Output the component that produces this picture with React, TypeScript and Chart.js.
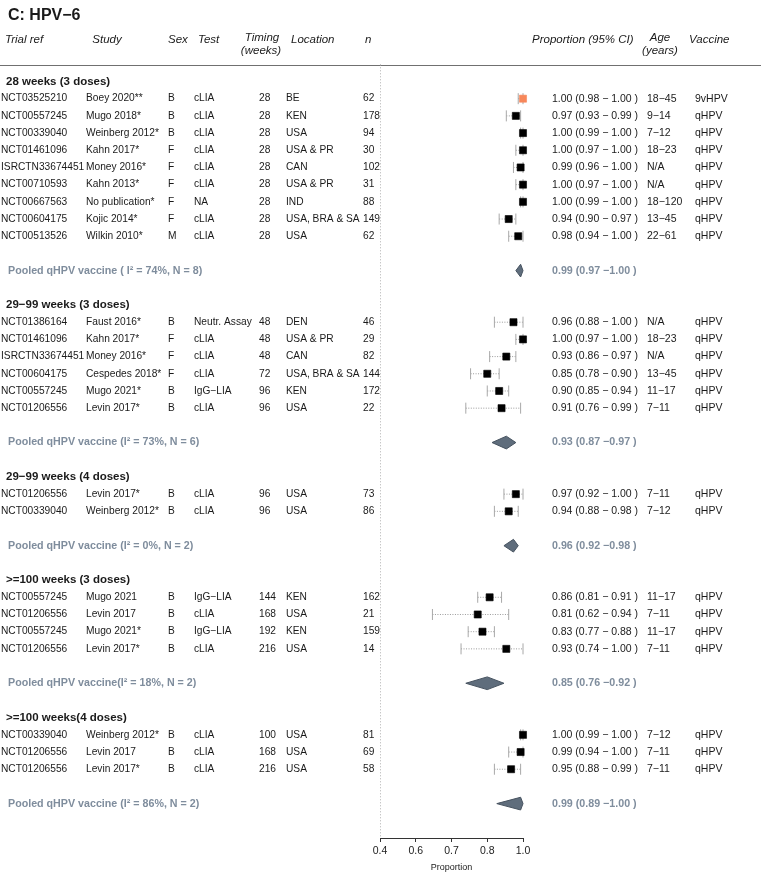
import React, { useEffect, useRef } from "react";
import { Chart, registerables } from "chart.js";

Chart.register(...registerables);

// ---------- DATA ----------
const groupTitles = [
  "28 weeks (3 doses)",
  "29−99 weeks (3 doses)",
  "29−99 weeks (4 doses)",
  ">=100 weeks (3 doses)",
  ">=100 weeks(4 doses)",
];
const groupSizes = [9, 6, 2, 4, 3];

const trialRefs = [
  "NCT03525210", "NCT00557245", "NCT00339040", "NCT01461096", "ISRCTN33674451", "NCT00710593", "NCT00667563", "NCT00604175", "NCT00513526",
  "NCT01386164", "NCT01461096", "ISRCTN33674451", "NCT00604175", "NCT00557245", "NCT01206556",
  "NCT01206556", "NCT00339040",
  "NCT00557245", "NCT01206556", "NCT00557245", "NCT01206556",
  "NCT00339040", "NCT01206556", "NCT01206556",
];
const studies = [
  "Boey 2020**", "Mugo 2018*", "Weinberg 2012*", "Kahn 2017*", "Money 2016*", "Kahn 2013*", "No publication*", "Kojic 2014*", "Wilkin 2010*",
  "Faust 2016*", "Kahn 2017*", "Money 2016*", "Cespedes 2018*", "Mugo 2021*", "Levin 2017*",
  "Levin 2017*", "Weinberg 2012*",
  "Mugo 2021", "Levin 2017", "Mugo 2021*", "Levin 2017*",
  "Weinberg 2012*", "Levin 2017", "Levin 2017*",
];
const sexes = [
  "B", "B", "B", "F", "F", "F", "F", "F", "M",
  "B", "F", "F", "F", "B", "B",
  "B", "B",
  "B", "B", "B", "B",
  "B", "B", "B",
];
const tests = [
  "cLIA", "cLIA", "cLIA", "cLIA", "cLIA", "cLIA", "NA", "cLIA", "cLIA",
  "Neutr. Assay", "cLIA", "cLIA", "cLIA", "IgG−LIA", "cLIA",
  "cLIA", "cLIA",
  "IgG−LIA", "cLIA", "IgG−LIA", "cLIA",
  "cLIA", "cLIA", "cLIA",
];
const timings = [
  "28", "28", "28", "28", "28", "28", "28", "28", "28",
  "48", "48", "48", "72", "96", "96",
  "96", "96",
  "144", "168", "192", "216",
  "100", "168", "216",
];
const locations = [
  "BE", "KEN", "USA", "USA & PR", "CAN", "USA & PR", "IND", "USA, BRA & SA", "USA",
  "DEN", "USA & PR", "CAN", "USA, BRA & SA", "KEN", "USA",
  "USA", "USA",
  "KEN", "USA", "KEN", "USA",
  "USA", "USA", "USA",
];
const sampleSizes = [
  62, 178, 94, 30, 102, 31, 88, 149, 62,
  46, 29, 82, 144, 172, 22,
  73, 86,
  162, 21, 159, 14,
  81, 69, 58,
];
const estimates = [
  1.0, 0.97, 1.0, 1.0, 0.99, 1.0, 1.0, 0.94, 0.98,
  0.96, 1.0, 0.93, 0.85, 0.9, 0.91,
  0.97, 0.94,
  0.86, 0.81, 0.83, 0.93,
  1.0, 0.99, 0.95,
];
const lowers = [
  0.98, 0.93, 0.99, 0.97, 0.96, 0.97, 0.99, 0.9, 0.94,
  0.88, 0.97, 0.86, 0.78, 0.85, 0.76,
  0.92, 0.88,
  0.81, 0.62, 0.77, 0.74,
  0.99, 0.94, 0.88,
];
const uppers = [
  1.0, 0.99, 1.0, 1.0, 1.0, 1.0, 1.0, 0.97, 1.0,
  1.0, 1.0, 0.97, 0.9, 0.94, 0.99,
  1.0, 0.98,
  0.91, 0.94, 0.88, 1.0,
  1.0, 1.0, 0.99,
];
const ages = [
  "18−45", "9−14", "7−12", "18−23", "N/A", "N/A", "18−120", "13−45", "22−61",
  "N/A", "18−23", "N/A", "13−45", "11−17", "7−11",
  "7−11", "7−12",
  "11−17", "7−11", "11−17", "7−11",
  "7−12", "7−11", "7−11",
];
const vaccines = [
  "9vHPV", "qHPV", "qHPV", "qHPV", "qHPV", "qHPV", "qHPV", "qHPV", "qHPV",
  "qHPV", "qHPV", "qHPV", "qHPV", "qHPV", "qHPV",
  "qHPV", "qHPV",
  "qHPV", "qHPV", "qHPV", "qHPV",
  "qHPV", "qHPV", "qHPV",
];

const pooledLabels = [
  "Pooled qHPV vaccine ( I² = 74%, N = 8)",
  "Pooled qHPV vaccine (I² = 73%, N = 6)",
  "Pooled qHPV vaccine (I² = 0%, N = 2)",
  "Pooled qHPV vaccine(I² = 18%, N = 2)",
  "Pooled qHPV vaccine (I² = 86%, N = 2)",
];
const pooledEst = [0.99, 0.93, 0.96, 0.85, 0.99];
const pooledLo = [0.97, 0.87, 0.92, 0.76, 0.89];
const pooledHi = [1.0, 0.97, 0.98, 0.92, 1.0];

const xTickValues = [0.4, 0.55, 0.7, 0.85, 1.0];
const xTickLabels = ["0.4", "0.6", "0.7", "0.8", "1.0"];

// ---------- STYLE ----------
const FONT = '"Liberation Sans", Arial, Helvetica, sans-serif';
const TEXT = "#1a1a1a";
const POOLED_TEXT = "#7f8d9d";
const DIAMOND_FILL = "#5f6d7c";
const DIAMOND_BORDER = "#46525f";
const BOX = "#000000";
const BOX_HIGHLIGHT = "#f7875a";

// ---------- ROW LAYOUT ----------
const headerRows: number[] = [];
const studyRows: number[] = [];
const pooledRows: number[] = [];
(() => {
  let r = 0;
  groupSizes.forEach((n) => {
    headerRows.push(r);
    r += 1;
    for (let i = 0; i < n; i++) {
      studyRows.push(r);
      r += 1;
    }
    pooledRows.push(r + 1);
    r += 3;
  });
})();

const f2 = (v: number) => v.toFixed(2);

const tablePlugin = {
  id: "forestTable",
  beforeDatasetsDraw(chart: any) {
    const { ctx, chartArea, scales } = chart;
    const x = scales.x;
    ctx.save();
    ctx.strokeStyle = "#b0b0b0";
    ctx.lineWidth = 1;
    ctx.setLineDash([1, 2]);
    const px = Math.round(x.getPixelForValue(x.min)) + 0.5;
    ctx.beginPath();
    ctx.moveTo(px, chartArea.top);
    ctx.lineTo(px, chartArea.bottom);
    ctx.stroke();
    ctx.setLineDash([]);
    ctx.strokeStyle = "#707070";
    const hy = Math.round(chartArea.top + 1) + 0.5;
    ctx.beginPath();
    ctx.moveTo(0, hy);
    ctx.lineTo(chart.width, hy);
    ctx.stroke();
    ctx.restore();
  },
  afterDraw(chart: any) {
    const { ctx, scales } = chart;
    const y = scales.y;
    const Y = (r: number) => y.getPixelForValue(r);
    ctx.save();
    ctx.textBaseline = "middle";

    const txt = (s: string, px: number, py: number, align: CanvasTextAlign = "left") => {
      ctx.textAlign = align;
      ctx.fillText(s, px, py);
    };

    ctx.fillStyle = TEXT;
    ctx.font = `bold 16px ${FONT}`;
    txt("C: HPV−6", 8, Y(-3.85));

    ctx.font = `italic 11.5px ${FONT}`;
    const hRow = Y(-2.42);
    txt("Trial ref", 5, hRow);
    txt("Study", 107, hRow, "center");
    txt("Sex", 168, hRow);
    txt("Test", 198, hRow);
    txt("Timing", 262, Y(-2.55), "center");
    txt("(weeks)", 261, Y(-1.78), "center");
    txt("Location", 291, hRow);
    txt("n", 365, hRow);
    txt("Proportion (95% CI)", 532, hRow);
    txt("Age", 660, Y(-2.55), "center");
    txt("(years)", 660, Y(-1.78), "center");
    txt("Vaccine", 689, hRow);

    ctx.font = `bold 11.5px ${FONT}`;
    groupTitles.forEach((t, g) => txt(t, 6, Y(headerRows[g])));

    studyRows.forEach((r, i) => {
      const py = Y(r);
      ctx.font = `10.2px ${FONT}`;
      txt(trialRefs[i], 1, py);
      txt(studies[i], 86, py);
      txt(sexes[i], 168, py);
      txt(tests[i], 194, py);
      txt(timings[i], 259, py);
      txt(locations[i], 286, py);
      txt(String(sampleSizes[i]), 363, py);
      ctx.font = `10.5px ${FONT}`;
      txt(`${f2(estimates[i])} (${f2(lowers[i])} − ${f2(uppers[i])} )`, 552, py);
      txt(ages[i], 647, py);
      txt(vaccines[i], 695, py);
    });

    ctx.fillStyle = POOLED_TEXT;
    ctx.font = `bold 10.7px ${FONT}`;
    pooledRows.forEach((r, g) => {
      const py = Y(r);
      txt(pooledLabels[g], 8, py);
      txt(`${f2(pooledEst[g])} (${f2(pooledLo[g])} −${f2(pooledHi[g])} )`, 552, py);
    });
    ctx.restore();
  },
};

export default function App() {
  const ref = useRef<HTMLCanvasElement | null>(null);

  useEffect(() => {
    if (!ref.current) return;

    const boxDataset: any = {
      type: "line",
      data: studyRows.map((r, i) => ({ x: estimates[i], y: r })),
      showLine: false,
      pointStyle: "rect",
      pointRadius: 5,
      pointBorderWidth: 0.6,
      pointBackgroundColor: vaccines.map((v) => (v === "9vHPV" ? BOX_HIGHLIGHT : BOX)),
      pointBorderColor: vaccines.map((v) => (v === "9vHPV" ? BOX_HIGHLIGHT : BOX)),
      clip: false,
      order: 0,
    };

    const ciDatasets: any[] = studyRows.map((r, i) => ({
      type: "line",
      data: [
        { x: lowers[i], y: r },
        { x: uppers[i], y: r },
      ],
      borderColor: "#9a9a9a",
      borderWidth: 1,
      borderDash: [1, 1.5],
      pointStyle: "line",
      pointRotation: 90,
      pointRadius: 5.5,
      pointBorderColor: "#a8a8a8",
      pointBorderWidth: 1,
      pointBackgroundColor: "transparent",
      clip: false,
      order: 2,
    }));

    const diamondDatasets: any[] = pooledRows.map((r, g) => ({
      type: "line",
      data: [
        { x: pooledLo[g], y: r },
        { x: pooledEst[g], y: r - 0.37 },
        { x: pooledHi[g], y: r },
        { x: pooledEst[g], y: r + 0.37 },
        { x: pooledLo[g], y: r },
      ],
      borderColor: DIAMOND_BORDER,
      borderWidth: 1,
      backgroundColor: DIAMOND_FILL,
      fill: "shape",
      pointRadius: 0,
      tension: 0,
      clip: false,
      order: 1,
    }));

    const chart = new Chart(ref.current, {
      type: "line",
      data: { datasets: [boxDataset, ...diamondDatasets, ...ciDatasets] },
      options: {
        animation: false,
        responsive: false,
        maintainAspectRatio: false,
        layout: { padding: { left: 380, right: 238, top: 64.3, bottom: 0 } },
        plugins: {
          legend: { display: false },
          tooltip: { enabled: false },
        },
        scales: {
          x: {
            type: "linear",
            position: "bottom",
            min: 0.4,
            max: 1.0,
            afterBuildTicks: (s: any) => {
              s.ticks = xTickValues.map((v) => ({ value: v }));
            },
            afterFit: (s: any) => {
              s.height = 35;
            },
            ticks: {
              callback: (_v: any, i: number) => xTickLabels[i],
              font: { family: FONT, size: 10.5 },
              color: "#222",
              padding: 3,
              maxRotation: 0,
              autoSkip: false,
            },
            grid: {
              drawOnChartArea: false,
              drawTicks: true,
              tickLength: 4,
              tickColor: "#333",
              color: "#333",
            },
            border: { display: true, color: "#333", width: 1 },
            title: {
              display: true,
              text: "Proportion",
              font: { family: FONT, size: 9 },
              color: "#222",
              padding: { top: 0, bottom: 0 },
            },
          },
          y: {
            type: "linear",
            min: -1,
            max: 44,
            reverse: true,
            display: false,
          },
        },
      } as any,
      plugins: [tablePlugin],
    });

    return () => chart.destroy();
  }, []);

  return (
    <div style={{ position: "absolute", left: 0, top: 0, width: 761, height: 873, background: "#fff" }}>
      <canvas ref={ref} width={761} height={873} style={{ display: "block", width: 761, height: 873 }} />
    </div>
  );
}
